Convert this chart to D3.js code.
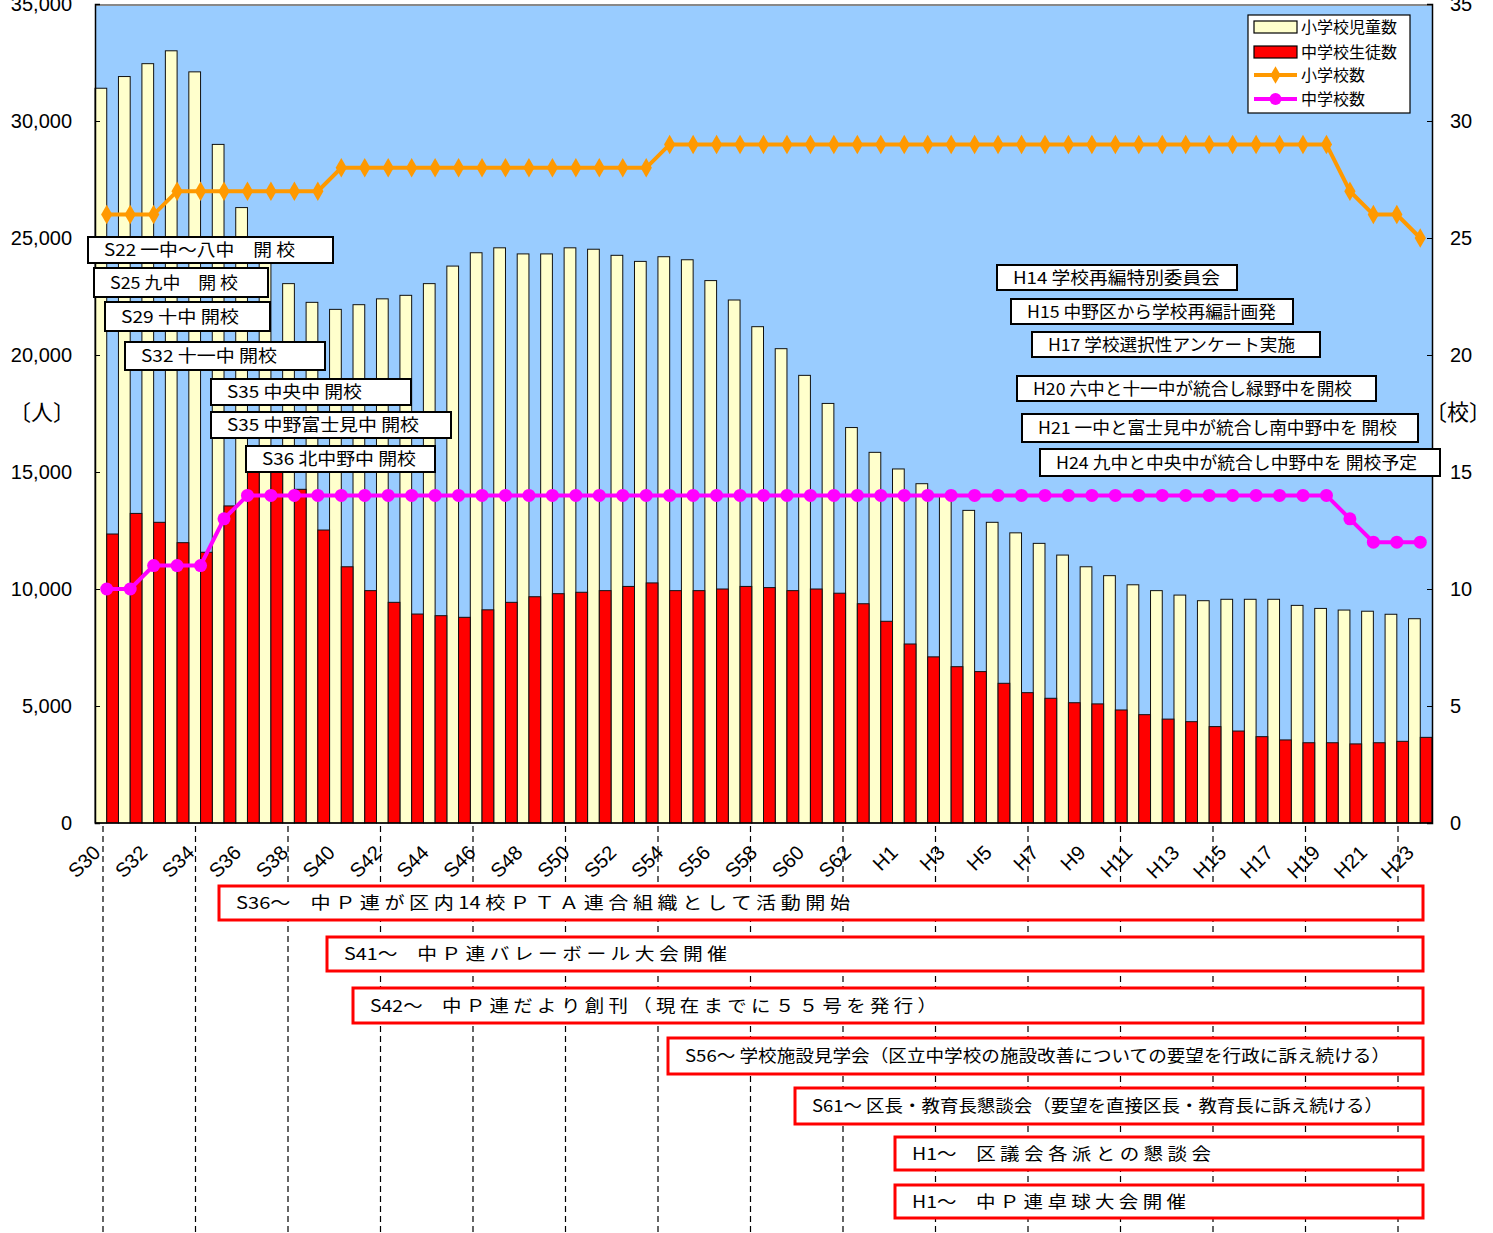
<!DOCTYPE html>
<html>
<head>
<meta charset="utf-8">
<script src="https://cdn.jsdelivr.net/npm/d3@7"></script>
<style>
  body { margin: 0; background: #fff; }
  svg { display: block; }
  .num { font-family: "Liberation Sans", Arial, sans-serif; font-size: 20px; fill: #000; }
  .jp { font-family: "Noto Sans CJK JP", sans-serif; fill: #000; }
</style>
</head>
<body>
<div id="chart"></div>
<script>
// years S30 .. S63, H1 .. H23
const years = [
  'S30','S31','S32','S33','S34','S35','S36','S37','S38','S39',
  'S40','S41','S42','S43','S44','S45','S46','S47','S48','S49',
  'S50','S51','S52','S53','S54','S55','S56','S57','S58','S59',
  'S60','S61','S62','S63',
  'H1','H2','H3','H4','H5','H6','H7','H8','H9','H10',
  'H11','H12','H13','H14','H15','H16','H17','H18','H19','H20',
  'H21','H22','H23'
];

// 小学校児童数
const elemPupils = [
  31400, 31900, 32450, 33000, 32100, 29000, 26300, 24700, 23050, 22250,
  21950, 22150, 22400, 22550, 23050, 23800, 24370, 24580, 24320, 24320,
  24580, 24520, 24260, 24000, 24200, 24070, 23180, 22350, 21210, 20270,
  19130, 17930, 16900, 15840,
  15130, 14500, 13950, 13360, 12850, 12400, 11950, 11450, 10950, 10570,
  10180, 9930, 9740, 9500, 9560, 9560, 9560, 9300, 9170, 9100,
  9050, 8920, 8730
];

// 中学校生徒数
const juniorPupils = [
  12350, 13230, 12850, 11980, 11570, 13550, 15500, 15300, 14260, 12520,
  10950, 9930, 9430, 8930, 8860, 8790, 9110, 9430, 9670, 9800,
  9860, 9930, 10110, 10260, 9930, 9930, 10000, 10110, 10060, 9930,
  10000, 9820, 9370, 8620,
  7650, 7100, 6680, 6470, 5970, 5570, 5330, 5140, 5090, 4830,
  4630, 4440, 4330, 4120, 3930, 3690, 3550, 3430, 3430, 3380,
  3430, 3490, 3660
];

// 小学校数
const elemSchools = [
  26, 26, 26, 27, 27, 27, 27, 27, 27, 27,
  28, 28, 28, 28, 28, 28, 28, 28, 28, 28,
  28, 28, 28, 28, 29, 29, 29, 29, 29, 29,
  29, 29, 29, 29,
  29, 29, 29, 29, 29, 29, 29, 29, 29, 29,
  29, 29, 29, 29, 29, 29, 29, 29, 29, 27,
  26, 26, 25
];

// 中学校数
const juniorSchools = [
  10, 10, 11, 11, 11, 13, 14, 14, 14, 14,
  14, 14, 14, 14, 14, 14, 14, 14, 14, 14,
  14, 14, 14, 14, 14, 14, 14, 14, 14, 14,
  14, 14, 14, 14,
  14, 14, 14, 14, 14, 14, 14, 14, 14, 14,
  14, 14, 14, 14, 14, 14, 14, 14, 14, 13,
  12, 12, 12
];

const peopleTicks = [0, 5000, 10000, 15000, 20000, 25000, 30000, 35000];
const schoolTicks = [0, 5, 10, 15, 20, 25, 30, 35];

const legendItems = ['小学校児童数', '中学校生徒数', '小学校数', '中学校数'];

// event notes over the plot (black boxes)
const topNotes = [
  { text: 'S22 一中～八中　開 校', x: 88, y: 237, w: 245, h: 26, tl: 191 },
  { text: 'S25 九中　開 校', x: 94, y: 268, w: 174, h: 29, tl: 128 },
  { text: 'S29 十中 開校', x: 105, y: 302, w: 165, h: 29, tl: 118 },
  { text: 'S32 十一中 開校', x: 125, y: 342, w: 200, h: 28, tl: 136 },
  { text: 'S35 中央中 開校', x: 211, y: 379, w: 200, h: 26, tl: 135 },
  { text: 'S35 中野富士見中 開校', x: 211, y: 412, w: 240, h: 26, tl: 192 },
  { text: 'S36 北中野中 開校', x: 246, y: 446, w: 189, h: 26, tl: 154 },
  { text: 'H14 学校再編特別委員会', x: 997, y: 265, w: 240, h: 25, tl: 207 },
  { text: 'H15 中野区から学校再編計画発', x: 1011, y: 299, w: 282, h: 25, tl: 249 },
  { text: 'H17 学校選択性アンケート実施', x: 1032, y: 332, w: 288, h: 25, tl: 247 },
  { text: 'H20 六中と十一中が統合し緑野中を開校', x: 1017, y: 376, w: 359, h: 25, tl: 319 },
  { text: 'H21 一中と富士見中が統合し南中野中を 開校', x: 1022, y: 414, w: 396, h: 28, tl: 359 },
  { text: 'H24 九中と中央中が統合し中野中を 開校予定', x: 1040, y: 449, w: 400, h: 27, tl: 361 }
];

// PTA activities under the axis (red boxes)
const bottomNotes = [
  { text: 'S36～　中 Ｐ 連 が 区 内 14 校 Ｐ Ｔ Ａ 連 合 組 織 と し て 活 動 開 始', x: 219, y: 886, h: 34, tl: 614 },
  { text: 'S41～　中 Ｐ 連 バ レ ー ボ ー ル 大 会 開 催', x: 327, y: 937, h: 34, tl: 383 },
  { text: 'S42～　中 Ｐ 連 だ よ り 創 刊 （ 現 在 ま で に ５ ５ 号 を 発 行 ）', x: 353, y: 988, h: 35, tl: 567 },
  { text: 'S56～ 学校施設見学会（区立中学校の施設改善についての要望を行政に訴え続ける）', x: 668, y: 1038, h: 36, tl: 705 },
  { text: 'S61～ 区長・教育長懇談会（要望を直接区長・教育長に訴え続ける）', x: 795, y: 1088, h: 36, tl: 571 },
  { text: 'H1～　区 議 会 各 派 と の 懇 談 会', x: 895, y: 1137, h: 33, tl: 299 },
  { text: 'H1～　中 Ｐ 連 卓 球 大 会 開 催', x: 895, y: 1185, h: 33, tl: 274 }
];

const WIDTH = 1493, HEIGHT = 1233;
const PLOT = { left: 95, right: 1432, top: 4, bottom: 823 };
const NOTE_RIGHT = 1423;

const svg = d3.select('#chart').append('svg')
  .attr('width', WIDTH)
  .attr('height', HEIGHT);

const x = d3.scaleBand()
  .domain(years)
  .range([PLOT.left, PLOT.right])
  .padding(0);
const bw = x.bandwidth();
const xc = (y) => x(y) + bw / 2;

const yPeople = d3.scaleLinear().domain([0, 35000]).range([PLOT.bottom, PLOT.top]);
const ySchool = d3.scaleLinear().domain([0, 35]).range([PLOT.bottom, PLOT.top]);

// the dashed guides are drawn shapes, evenly spaced, not tied to the bars
const guideCount = 15;
const xGuide = d3.scaleLinear().domain([0, guideCount - 1]).range([103, 1398]);

// plot background
svg.append('rect')
  .attr('x', PLOT.left).attr('y', PLOT.top)
  .attr('width', PLOT.right - PLOT.left).attr('height', PLOT.bottom - PLOT.top)
  .attr('fill', '#99ccff');
svg.append('line')
  .attr('x1', PLOT.left).attr('x2', PLOT.right)
  .attr('y1', PLOT.top + 1).attr('y2', PLOT.top + 1)
  .attr('stroke', '#888').attr('stroke-width', 2);

// dashed guides below the axis
svg.append('g').selectAll('line')
  .data(d3.range(guideCount))
  .join('line')
  .attr('x1', d => xGuide(d)).attr('x2', d => xGuide(d))
  .attr('y1', PLOT.bottom + 3).attr('y2', HEIGHT)
  .attr('stroke', '#000')
  .attr('stroke-width', 1.2)
  .attr('stroke-dasharray', '6,4');

// bars
const bars = svg.append('g');
bars.selectAll('rect.elem')
  .data(years)
  .join('rect')
  .attr('class', 'elem')
  .attr('x', d => x(d))
  .attr('y', (d, i) => yPeople(elemPupils[i]))
  .attr('width', bw / 2)
  .attr('height', (d, i) => PLOT.bottom - yPeople(elemPupils[i]))
  .attr('fill', '#ffffcc')
  .attr('stroke', '#111')
  .attr('stroke-width', 1);

bars.selectAll('rect.junior')
  .data(years)
  .join('rect')
  .attr('class', 'junior')
  .attr('x', d => x(d) + bw / 2)
  .attr('y', (d, i) => yPeople(juniorPupils[i]))
  .attr('width', bw / 2)
  .attr('height', (d, i) => PLOT.bottom - yPeople(juniorPupils[i]))
  .attr('fill', '#ff0000')
  .attr('stroke', '#111')
  .attr('stroke-width', 1);

// axes
const leftAxis = svg.append('g')
  .attr('transform', `translate(${PLOT.left},0)`)
  .call(d3.axisLeft(yPeople).tickValues(peopleTicks).tickSize(-5).tickPadding(23)
    .tickFormat(d3.format(',')));
const rightAxis = svg.append('g')
  .attr('transform', `translate(${PLOT.right},0)`)
  .call(d3.axisRight(ySchool).tickValues(schoolTicks).tickSize(-5).tickPadding(18));
[leftAxis, rightAxis].forEach(g => {
  g.select('.domain').attr('stroke', '#000').attr('stroke-width', 1.5);
  g.selectAll('.tick line').attr('stroke', '#000');
  g.selectAll('text').attr('class', 'num').attr('font-size', null).attr('font-family', null);
});
svg.append('line')
  .attr('x1', PLOT.left).attr('x2', PLOT.right)
  .attr('y1', PLOT.bottom).attr('y2', PLOT.bottom)
  .attr('stroke', '#000').attr('stroke-width', 1.5);

// unit labels
svg.append('text').attr('class', 'jp')
  .attr('x', 42).attr('y', 420).attr('text-anchor', 'middle')
  .attr('font-size', 22).text('〔人〕');
svg.append('text').attr('class', 'jp')
  .attr('x', 1458).attr('y', 420).attr('text-anchor', 'middle')
  .attr('font-size', 22).text('〔校〕');

// x labels every 2 years, rotated
svg.append('g').selectAll('text')
  .data(years.filter((d, i) => i % 2 === 0))
  .join('text')
  .attr('class', 'num')
  .attr('font-size', 21)
  .attr('text-anchor', 'end')
  .attr('transform', d => `translate(${xc(d) - 10},${PLOT.bottom + 26}) rotate(-45)`)
  .attr('dy', '0.35em')
  .text(d => d);

// lines
const lineOf = (vals) => d3.line()
  .x((d, i) => xc(years[i]))
  .y(d => ySchool(d))(vals);

svg.append('path')
  .attr('d', lineOf(elemSchools))
  .attr('fill', 'none')
  .attr('stroke', '#ff9900')
  .attr('stroke-width', 4);
svg.append('g').selectAll('path')
  .data(elemSchools)
  .join('path')
  .attr('transform', (d, i) => `translate(${xc(years[i])},${ySchool(d)})`)
  .attr('d', d3.symbol(d3.symbolDiamond, 110))
  .attr('fill', '#ff9900');

svg.append('path')
  .attr('d', lineOf(juniorSchools))
  .attr('fill', 'none')
  .attr('stroke', '#ff00ff')
  .attr('stroke-width', 4);
svg.append('g').selectAll('circle')
  .data(juniorSchools)
  .join('circle')
  .attr('cx', (d, i) => xc(years[i]))
  .attr('cy', d => ySchool(d))
  .attr('r', 6.5)
  .attr('fill', '#ff00ff');

// note boxes
const drawNote = (g, n, w, stroke, sw, fs, padX) => {
  g.append('rect')
    .attr('x', n.x).attr('y', n.y)
    .attr('width', w).attr('height', n.h)
    .attr('fill', '#fff')
    .attr('stroke', stroke)
    .attr('stroke-width', sw);
  g.append('text')
    .attr('class', 'jp')
    .attr('x', n.x + padX)
    .attr('y', n.y + n.h / 2)
    .attr('dy', '0.36em')
    .attr('font-size', fs)
    .attr('textLength', n.tl)
    .attr('lengthAdjust', 'spacingAndGlyphs')
    .text(n.text);
};

const notesTop = svg.append('g');
topNotes.forEach(n => drawNote(notesTop, n, n.w, '#000', 2, 17, 16));

const notesBottom = svg.append('g');
bottomNotes.forEach(n => drawNote(notesBottom, n, NOTE_RIGHT - n.x, '#ff0000', 3, 17, 17));

// legend
const legend = svg.append('g').attr('transform', 'translate(1248,15)');
legend.append('rect')
  .attr('width', 162).attr('height', 98)
  .attr('fill', '#fff').attr('stroke', '#000').attr('stroke-width', 1.2);
const rowY = [12, 37, 60, 84];
legend.append('rect').attr('x', 6).attr('y', rowY[0] - 6).attr('width', 43).attr('height', 12)
  .attr('fill', '#ffffcc').attr('stroke', '#000').attr('stroke-width', 1.2);
legend.append('rect').attr('x', 6).attr('y', rowY[1] - 6).attr('width', 43).attr('height', 12)
  .attr('fill', '#ff0000').attr('stroke', '#000').attr('stroke-width', 1.2);
legend.append('line').attr('x1', 6).attr('x2', 49).attr('y1', rowY[2]).attr('y2', rowY[2])
  .attr('stroke', '#ff9900').attr('stroke-width', 4);
legend.append('path').attr('transform', `translate(27.5,${rowY[2]})`)
  .attr('d', d3.symbol(d3.symbolDiamond, 90)).attr('fill', '#ff9900');
legend.append('line').attr('x1', 6).attr('x2', 49).attr('y1', rowY[3]).attr('y2', rowY[3])
  .attr('stroke', '#ff00ff').attr('stroke-width', 4);
legend.append('circle').attr('cx', 27.5).attr('cy', rowY[3]).attr('r', 6)
  .attr('fill', '#ff00ff');
legend.selectAll('text.item')
  .data(legendItems)
  .join('text')
  .attr('class', 'jp item')
  .attr('x', 53)
  .attr('y', (d, i) => rowY[i])
  .attr('dy', '0.36em')
  .attr('font-size', 16)
  .text(d => d);
</script>
</body>
</html>
